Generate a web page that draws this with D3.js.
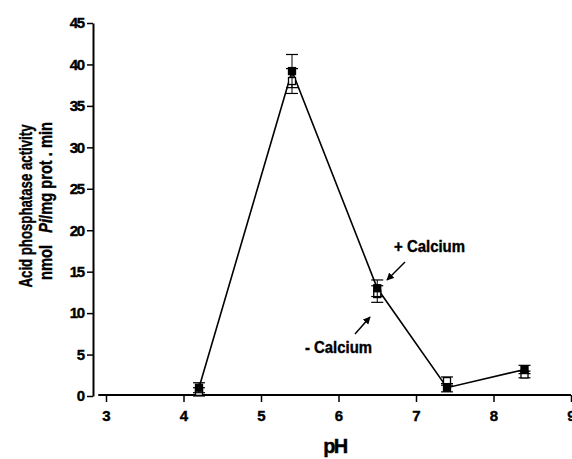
<!DOCTYPE html>
<html lang="en">
<head>
    <meta charset="UTF-8">
    <title>Acid phosphatase vs pH</title>
    <script src="https://d3js.org/d3.v7.min.js"></script>
    <style>
        body { margin: 0; background: #fff; }
        text { font-family: "Liberation Sans", Arial, sans-serif; font-weight: bold; stroke: #000; stroke-width: 0.4px; }
    </style>
</head>
<body>
<script type="text/javascript">
    // pH values measured
    var phValues = [4.2, 5.4, 6.5, 7.4, 8.4];
    // + Calcium (filled squares)
    var withCalcium = [1.0, 39.2, 13.0, 1.0, 3.2];
    var withCalciumErr = [0.6, 2.0, 1.0, 0.5, 0.5];
    // - Calcium (open squares)
    var withoutCalcium = [0.5, 38.0, 12.3, 1.8, 2.6];
    var withoutCalciumErr = [0.5, 1.5, 1.0, 0.5, 0.4];
    var xTicks = [3, 4, 5, 6, 7, 8, 9];
    var yTicks = [0, 5, 10, 15, 20, 25, 30, 35, 40, 45];

    var width = 572, height = 459;

    var xScale = d3.scaleLinear().domain([3, 9]).range([106, 571]);
    var yScale = d3.scaleLinear().domain([0, 45]).range([396, 23]);

    var svg = d3.select("body").append("svg")
        .attr("width", width)
        .attr("height", height);

    // y axis
    var yAxis = svg.append("g")
        .attr("transform", "translate(93,0)")
        .call(d3.axisLeft(yScale).tickValues(yTicks).tickFormat(d3.format("d"))
            .tickSize(6).tickSizeOuter(0).tickPadding(3));
    yAxis.select(".domain").attr("stroke-width", 2);
    yAxis.selectAll(".tick line").attr("stroke-width", 1.5);
    yAxis.selectAll(".tick text")
        .attr("font-size", 15)
        .attr("font-family", null)
        .attr("letter-spacing", "-1.2px")
        .attr("fill", "#000");

    // x axis, offset a bit from the y axis
    var xAxis = svg.append("g")
        .attr("transform", "translate(0,395)")
        .call(d3.axisBottom(xScale).tickValues(xTicks).tickFormat(d3.format("d"))
            .tickSize(7).tickSizeOuter(0).tickPadding(8));
    xAxis.select(".domain").remove();
    xAxis.append("line")
        .attr("x1", xScale(2.9)).attr("x2", xScale(9))
        .attr("stroke", "#000").attr("stroke-width", 2);
    xAxis.selectAll(".tick line").attr("stroke-width", 1.5);
    xAxis.selectAll(".tick text")
        .attr("font-size", 15)
        .attr("font-family", null)
        .attr("fill", "#000");

    // axis titles
    svg.append("text")
        .attr("x", 335).attr("y", 453)
        .attr("text-anchor", "middle")
        .attr("font-size", 20)
        .attr("letter-spacing", "-1.5px")
        .text("pH");

    svg.append("text")
        .attr("transform", "translate(32,206) rotate(-90)")
        .attr("text-anchor", "middle")
        .attr("font-size", 19)
        .attr("textLength", 163)
        .attr("lengthAdjust", "spacingAndGlyphs")
        .text("Acid phosphatase activity");
    var line2 = svg.append("text")
        .attr("transform", "translate(52,201) rotate(-90)")
        .attr("text-anchor", "middle")
        .attr("font-size", 19)
        .attr("textLength", 158)
        .attr("lengthAdjust", "spacingAndGlyphs");
    line2.append("tspan").text("nmol\u00a0\u00a0\u00a0");
    line2.append("tspan").attr("font-style", "italic").text("Pi");
    line2.append("tspan").text("/mg prot . min");

    // line through + Calcium points
    var pts = phValues.map(function (p, i) {
        return {x: p, y: withCalcium[i]};
    });
    svg.append("path")
        .datum(pts)
        .attr("fill", "none")
        .attr("stroke", "#000")
        .attr("stroke-width", 1.6)
        .attr("d", d3.line()
            .x(function (d) { return xScale(d.x); })
            .y(function (d) { return yScale(d.y); }));

    var drawSeries = function (vals, errs, filled) {
        var data = phValues.map(function (p, i) {
            return {x: p, y: vals[i], e: errs[i]};
        });
        var g = svg.append("g");
        var bars = g.selectAll("g").data(data).enter().append("g");
        bars.append("line")
            .attr("x1", function (d) { return xScale(d.x); })
            .attr("x2", function (d) { return xScale(d.x); })
            .attr("y1", function (d) { return yScale(d.y - d.e); })
            .attr("y2", function (d) { return yScale(d.y + d.e); })
            .attr("stroke", "#000").attr("stroke-width", 1);
        [-1, 1].forEach(function (s) {
            bars.append("line")
                .attr("x1", function (d) { return xScale(d.x) - 6; })
                .attr("x2", function (d) { return xScale(d.x) + 6; })
                .attr("y1", function (d) { return yScale(d.y + s * d.e); })
                .attr("y2", function (d) { return yScale(d.y + s * d.e); })
                .attr("stroke", "#000").attr("stroke-width", 1.2);
        });
        bars.append("rect")
            .attr("x", function (d) { return xScale(d.x) - 3.5; })
            .attr("y", function (d) { return yScale(d.y) - 3.5; })
            .attr("width", 7).attr("height", 7)
            .attr("fill", filled ? "#000" : "#fff")
            .attr("stroke", "#000").attr("stroke-width", 1.3);
    };
    drawSeries(withoutCalcium, withoutCalciumErr, false);
    drawSeries(withCalcium, withCalciumErr, true);

    // annotations
    svg.append("defs").append("marker")
        .attr("id", "arrow")
        .attr("viewBox", "0 0 10 10")
        .attr("refX", 9).attr("refY", 5)
        .attr("markerWidth", 5).attr("markerHeight", 5)
        .attr("orient", "auto")
        .append("path").attr("d", "M0,0 L10,5 L0,10 z").attr("fill", "#000");

    svg.append("line")
        .attr("x1", 405).attr("y1", 262)
        .attr("x2", 387).attr("y2", 280)
        .attr("stroke", "#000").attr("stroke-width", 1.5)
        .attr("marker-end", "url(#arrow)");
    svg.append("text")
        .attr("x", 394).attr("y", 252)
        .attr("font-size", 16)
        .attr("textLength", 71)
        .attr("lengthAdjust", "spacingAndGlyphs")
        .text("+ Calcium");

    svg.append("line")
        .attr("x1", 355).attr("y1", 334)
        .attr("x2", 370).attr("y2", 317)
        .attr("stroke", "#000").attr("stroke-width", 1.5)
        .attr("marker-end", "url(#arrow)");
    svg.append("text")
        .attr("x", 305).attr("y", 353)
        .attr("font-size", 16)
        .attr("textLength", 67)
        .attr("lengthAdjust", "spacingAndGlyphs")
        .text("- Calcium");
</script>
</body>
</html>
